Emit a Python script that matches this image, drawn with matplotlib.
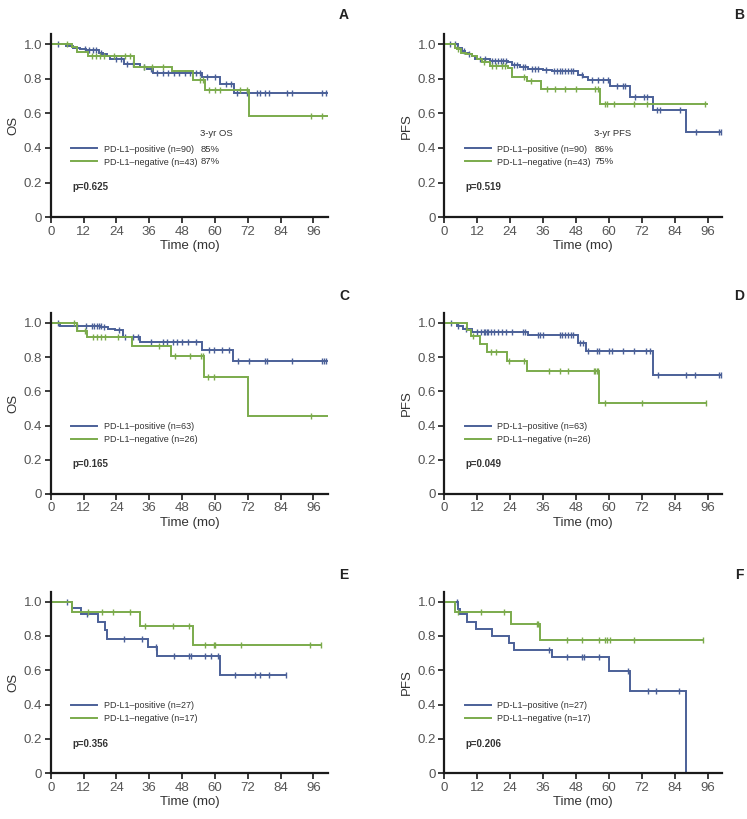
import matplotlib
matplotlib.use("Agg")
import matplotlib.pyplot as plt
import numpy as np

plt.rcParams['font.family'] = ['Liberation Sans', 'DejaVu Sans']

BLUE  = '#4b6098'
GREEN = '#7bab4c'

# ── Kaplan-Meier steps ───────────────────────────────────────────────────────
A_POS_T = [0, 5.5, 8.3, 10.7, 13, 17.5, 19, 20.5, 21.8, 26.6, 32.7, 35, 37.5, 55.3, 61.8, 67, 101]
A_POS_S = [1.0, 0.99, 0.98, 0.97, 0.965, 0.95, 0.94, 0.93, 0.915, 0.885, 0.87, 0.855, 0.835, 0.81, 0.77, 0.72, 0.72]
A_POS_C = [2.8, 12.5, 14, 15.5, 16.5, 18.5, 24, 25.5, 28, 30, 34, 36.5, 39, 41, 43, 45, 47, 49, 51, 53, 54.5,
           57, 60, 64, 66, 68, 71.7, 75.4, 76.6, 78.4, 79.7, 86.4, 88.2, 99.2, 100.4]
A_NEG_T = [0, 7.7, 9.5, 13.8, 30.3, 44.3, 52, 56.5, 72.3, 101.5]
A_NEG_S = [1.0, 0.985, 0.955, 0.93, 0.867, 0.842, 0.79, 0.732, 0.586, 0.586]
A_NEG_C = [6, 15, 16.5, 18, 19.5, 23, 27, 29, 34, 37, 41, 54.5, 55.5, 57.7, 60.1, 62, 69.3, 71.7, 95, 99.2]

B_POS_T = [0, 5.1, 6.3, 7.5, 8.8, 10, 11.2, 16.7, 23.3, 24.6, 27.6, 30.6, 36, 39.2, 48.9, 50.7, 52.5, 60.4,
           67.7, 76, 88.2, 101.2]
B_POS_S = [1.0, 0.98, 0.96, 0.95, 0.94, 0.93, 0.915, 0.905, 0.895, 0.88, 0.87, 0.855, 0.85, 0.842, 0.82, 0.81,
           0.79, 0.755, 0.697, 0.62, 0.495, 0.495]
B_POS_C = [2, 4, 7, 9, 13, 15, 17.5, 18.5, 19.5, 20.5, 21.5, 22.5, 25.5, 26.5, 28.5, 29.5, 32, 33, 34, 37, 40,
           41, 42, 43, 44, 45, 46, 47, 50, 54, 56, 58, 59.5, 63, 65, 66, 69.6, 72.6, 73.8, 77.5, 78.7, 86,
           91.8, 100, 101]
B_NEG_T = [0, 3.9, 4.5, 6, 8, 10, 12, 13.6, 16.7, 23.3, 24.6, 30, 35.3, 56.8, 95.7]
B_NEG_S = [1.0, 0.98, 0.97, 0.95, 0.94, 0.93, 0.915, 0.895, 0.875, 0.86, 0.81, 0.784, 0.742, 0.655, 0.655]
B_NEG_C = [5, 14.5, 17.5, 19, 21, 22, 29, 31.5, 37.5, 40.5, 44, 48, 55, 56, 58.6, 59.2, 61.7, 69, 73.8, 95]

C_POS_T = [0, 3.4, 18.5, 21, 23.5, 26.4, 32.7, 55.3, 66.5, 101]
C_POS_S = [1.0, 0.98, 0.975, 0.965, 0.96, 0.918, 0.891, 0.844, 0.775, 0.775]
C_POS_C = [2.5, 9.5, 13, 15, 16, 17, 17.5, 18.2, 19.3, 25, 27, 30, 32, 36.5, 41, 42.5, 44.5, 46, 48, 50, 53,
           58, 59.5, 62.5, 65, 68.3, 72.3, 78.4, 79, 88.2, 99.2, 99.8, 100.4]
C_NEG_T = [0, 9.5, 13.4, 29.6, 43.9, 56.1, 72, 101.3]
C_NEG_S = [1.0, 0.955, 0.918, 0.866, 0.805, 0.685, 0.455, 0.455]
C_NEG_C = [8.5, 12.5, 15.5, 17, 18.5, 20, 24.5, 39.5, 45.5, 51, 55, 55.6, 57.3, 59.8, 95]

D_POS_T = [0, 4.7, 6.9, 10, 30.6, 48.9, 51.7, 76, 101.2]
D_POS_S = [1.0, 0.98, 0.965, 0.949, 0.93, 0.883, 0.837, 0.695, 0.695]
D_POS_C = [2.5, 5, 8, 12, 13.5, 14.5, 15, 15.5, 16, 17, 18, 19.5, 21, 22.5, 24.5, 28.5, 29.5, 34, 35, 36, 42,
           43, 44, 45, 46, 47, 49.5, 50.5, 52.5, 55.5, 56.5, 60, 61, 65, 69, 73.5, 75, 78, 88.2, 91.4, 100, 100.8]
D_NEG_T = [0, 8.1, 9.6, 13, 15.7, 23, 30, 56.4, 95.3]
D_NEG_S = [1.0, 0.96, 0.922, 0.879, 0.829, 0.776, 0.718, 0.533, 0.533]
D_NEG_C = [10.5, 17, 19, 23.5, 29, 38, 42, 45, 54.5, 55, 55.5, 56, 58.6, 72, 95.3]

E_POS_T = [0, 7.7, 11, 17.1, 19.9, 20.5, 35.4, 39, 61.7, 86.1]
E_POS_S = [1.0, 0.961, 0.928, 0.883, 0.835, 0.782, 0.738, 0.683, 0.571, 0.571]
E_POS_C = [5.9, 13.4, 26.8, 33.3, 38.5, 44.9, 50.4, 51.2, 56.5, 58.6, 61, 67.5, 74.8, 76.6, 79.7, 86.1]
E_NEG_T = [0, 7.7, 32.7, 51.9, 98.8]
E_NEG_S = [1.0, 0.94, 0.86, 0.748, 0.748]
E_NEG_C = [13.8, 18.7, 22.9, 28.8, 34.5, 44.5, 50.6, 56.5, 59.5, 60.1, 69.5, 94.9, 98.8]

F_POS_T = [0, 5.1, 5.7, 8.4, 11.4, 17.3, 23.6, 25.5, 39.3, 60, 67.7, 87.9]
F_POS_S = [1.0, 0.96, 0.928, 0.88, 0.84, 0.80, 0.757, 0.718, 0.676, 0.598, 0.478, 0.0]
F_POS_C = [4.7, 38.3, 44.6, 50.1, 51, 56.2, 67.1, 74.4, 77, 85.4]
F_NEG_T = [0, 3.9, 24.2, 34.9, 94.2]
F_NEG_S = [1.0, 0.938, 0.868, 0.777, 0.777]
F_NEG_C = [5.1, 13.3, 21.8, 33.7, 34.3, 44.6, 50.1, 56.5, 58.6, 59.2, 60.4, 69.2, 94.2]

LETTERS  = ['A', 'B', 'C', 'D', 'E', 'F']
YLABELS  = ['OS', 'PFS', 'OS', 'PFS', 'OS', 'PFS']
N_POS    = [90, 90, 63, 63, 27, 27]
N_NEG    = [43, 43, 26, 26, 17, 17]
PVALS    = ['0.625', '0.519', '0.165', '0.049', '0.356', '0.206']
HEADERS  = ['3-yr OS', '3-yr PFS', None, None, None, None]
PCT_POS  = ['85%', '86%', None, None, None, None]
PCT_NEG  = ['87%', '75%', None, None, None, None]
X_TICKS  = [0, 12, 24, 36, 48, 60, 72, 84, 96]
Y_TICKS  = [0, 0.2, 0.4, 0.6, 0.8, 1.0]
Y_LABS   = ['0', '0.2', '0.4', '0.6', '0.8', '1.0']

CURVES = [
    ((A_POS_T, A_POS_S, A_POS_C), (A_NEG_T, A_NEG_S, A_NEG_C)),
    ((B_POS_T, B_POS_S, B_POS_C), (B_NEG_T, B_NEG_S, B_NEG_C)),
    ((C_POS_T, C_POS_S, C_POS_C), (C_NEG_T, C_NEG_S, C_NEG_C)),
    ((D_POS_T, D_POS_S, D_POS_C), (D_NEG_T, D_NEG_S, D_NEG_C)),
    ((E_POS_T, E_POS_S, E_POS_C), (E_NEG_T, E_NEG_S, E_NEG_C)),
    ((F_POS_T, F_POS_S, F_POS_C), (F_NEG_T, F_NEG_S, F_NEG_C)),
]

# axes boxes in figure pixels: left, bottom(from top), right, top(from top)
LEFTS   = [50.7, 444.3]
RIGHTS  = [328.0, 722.3]
ROWS    = [(217.3, 34.0), (494.0, 313.0), (773.3, 591.7)]
LETTER_Y = [15, 296, 575]
LETTER_X = [344, 739]
W, H = 747, 819


def km(ax, t, s, cens, color, label):
    t = np.asarray(t, float); s = np.asarray(s, float)
    ax.step(t, s, where='post', color=color, lw=1.4, label=label, solid_joinstyle='miter')
    idx = np.searchsorted(t, cens, side='right') - 1
    ax.plot(cens, s[np.clip(idx, 0, len(s) - 1)], ls='none', marker='|',
            ms=5, mew=1.0, color=color)


fig = plt.figure(figsize=(W / 100, H / 100), dpi=100)

for i in range(6):
    r, c = divmod(i, 2)
    y0, y1 = ROWS[r]
    ax = fig.add_axes([LEFTS[c] / W, 1 - y0 / H, (RIGHTS[c] - LEFTS[c]) / W, (y0 - y1) / H])
    pos, neg = CURVES[i]
    km(ax, *pos, BLUE,  f'PD-L1\u2013positive (n={N_POS[i]})')
    km(ax, *neg, GREEN, f'PD-L1\u2013negative (n={N_NEG[i]})')

    ax.set_xlim(0, 101.3)
    ax.set_ylim(0, 1.058)
    ax.set_xticks(X_TICKS)
    ax.set_yticks(Y_TICKS, Y_LABS)
    for sp in ['top', 'right']:
        ax.spines[sp].set_visible(False)
    for sp in ['left', 'bottom']:
        ax.spines[sp].set_linewidth(1.6)
        ax.spines[sp].set_color('#1a1a1a')
    ax.tick_params(direction='out', length=4, width=1.2, color='#1a1a1a',
                   labelsize=9.5, labelcolor='#555555', pad=2)
    ax.set_xlabel('Time (mo)', fontsize=9.5, color='#333333', labelpad=2)
    ax.set_ylabel(YLABELS[i], fontsize=9.5, color='#333333', labelpad=3)

    ax.legend(loc='upper left', bbox_to_anchor=(0.074, 0.397), frameon=False, fontsize=6.5,
              handlelength=2.9, handletextpad=0.7, labelspacing=0.45, borderpad=0,
              borderaxespad=0, labelcolor='#333333')
    if HEADERS[i]:
        ax.text(0.54, 0.458, HEADERS[i], transform=ax.transAxes, fontsize=6.8,
                color='#333333', va='center', ha='left')
        ax.text(0.54, 0.37, PCT_POS[i], transform=ax.transAxes, fontsize=6.8,
                color='#333333', va='center', ha='left')
        ax.text(0.54, 0.302, PCT_NEG[i], transform=ax.transAxes, fontsize=6.8,
                color='#333333', va='center', ha='left')
    ax.text(0.077, 0.163, f'p={PVALS[i]}', transform=ax.transAxes, fontsize=7,
            color='#333333', va='center', ha='left', fontweight='bold')

    fig.text(LETTER_X[c] / W, 1 - LETTER_Y[r] / H, LETTERS[i], fontsize=10,
             fontweight='bold', color='#222222', ha='center', va='center')

fig.savefig('out.png', dpi=100)
